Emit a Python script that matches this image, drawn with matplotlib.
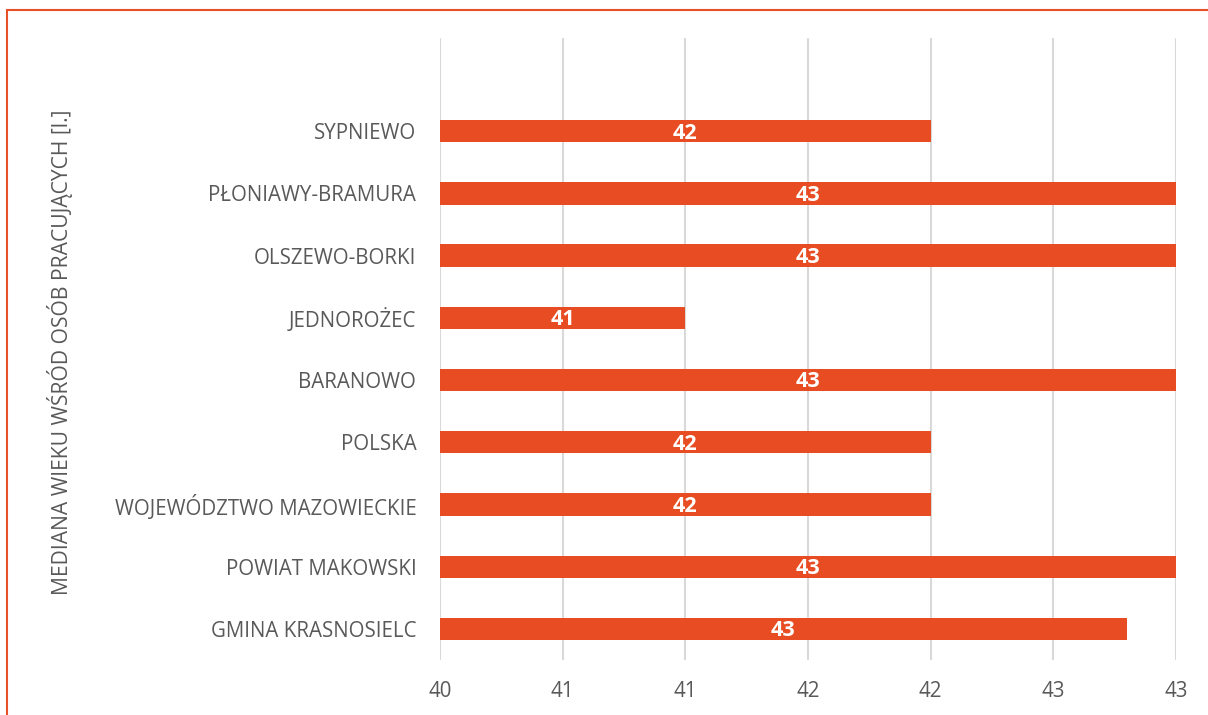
import matplotlib.pyplot as plt
from matplotlib.patches import Rectangle
from matplotlib.ticker import FuncFormatter

plt.rcParams['font.family'] = ['Open Sans', 'DejaVu Sans']

# data, bottom to top as drawn
categories = ['GMINA KRASNOSIELC', 'POWIAT MAKOWSKI', 'WOJEWÓDZTWO MAZOWIECKIE',
              'POLSKA', 'BARANOWO', 'JEDNOROŻEC', 'OLSZEWO-BORKI',
              'PŁONIAWY-BRAMURA', 'SYPNIEWO']
values = [42.8, 43, 42, 42, 43, 41, 43, 43, 42]
x_ticks = [40, 40.5, 41, 41.5, 42, 42.5, 43]

bar_color = '#E84C22'
text_color = '#595959'

fig = plt.figure(figsize=(12.08, 7.15), dpi=100)
ax = fig.add_axes([0.3642, 0.0769, 0.6093, 0.8700])

base = 40
ypos = list(range(len(categories)))
ax.barh(ypos, [v - base for v in values], left=base, height=0.36,
        color=bar_color, zorder=3)

for y, v in zip(ypos, values):
    ax.text(base + (v - base) / 2, y - 0.03, f'{v:.0f}', ha='center', va='center',
            color='white', fontweight='bold', fontsize=15.5, zorder=4)

ax.set_xlim(40, 43)
ax.set_ylim(-0.5, len(categories) + 0.5)
ax.set_xticks(x_ticks)
ax.xaxis.set_major_formatter(FuncFormatter(lambda x, p: f'{int(x + 0.5)}'))
ax.set_yticks(ypos)
ax.set_yticklabels(categories)
ax.grid(axis='x', color='#D9D9D9', linewidth=1.5, zorder=0)
ax.tick_params(length=0, labelsize=14.8, colors=text_color)
ax.tick_params(axis='y', pad=17)
ax.tick_params(axis='x', pad=15)
for s in ax.spines.values():
    s.set_visible(False)

fig.text(0.05, 0.508, 'MEDIANA WIEKU WŚRÓD OSÓB PRACUJĄCYCH [l.]', rotation=90,
         ha='center', va='center', color=text_color, fontsize=15.2)

# orange frame (right and bottom fall outside the image)
fig.patches.append(Rectangle((7 / 1208, -0.05), 1.2, 1 - 10 / 715 + 0.05,
                             transform=fig.transFigure, fill=False,
                             edgecolor='#E8502A', linewidth=1.5))

fig.savefig('out.png', dpi=100)
